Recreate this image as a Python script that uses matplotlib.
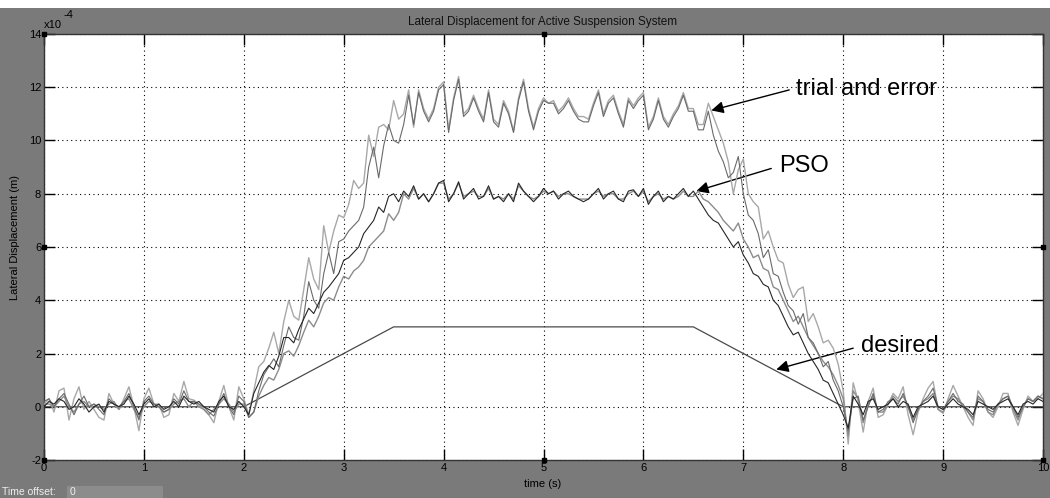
import numpy as np
import matplotlib
matplotlib.use("Agg")
import matplotlib.pyplot as plt
from matplotlib.patches import Rectangle

plt.rcParams['font.family'] = ['Liberation Sans', 'DejaVu Sans']
plt.rcParams['axes.unicode_minus'] = False

# time axis (s), 0.05 s steps
t = np.linspace(0, 10, 201)

# values in units of 1e-4 m
te_a = [0.1, 0.3, -0.2, 0.6, 0.7, -0.5, 0.3, 0.75, -0.1, 0.2, -0.1, -0.4, -0.5, 0.5, 0.1, -0.1, 0.3, 0.75, 0.0, -0.9,
        0.3, 0.7, 0.1, 0.1, -0.4, -0.3, 0.5, 0.2, 0.95, 0.3, 0.25, 0.1, -0.1, -0.3, -0.6, 0.2, 0.8, 0.0, -0.5, 0.75,
        0.3, -0.3, 0.6, 1.5, 1.7, 2.2, 2.8, 2.0, 3.2, 4.0, 3.4, 3.25, 4.4, 5.6, 4.8, 4.4, 6.8, 5.8, 6.6, 7.2,
        7.1, 7.6, 8.5, 8.2, 8.4, 10.2, 9.4, 10.5, 10.6, 10.4, 11.5, 10.8, 11.0, 11.9, 10.5, 11.9, 11.2, 10.8, 11.2, 12.0,
        12.2, 10.4, 11.6, 12.4, 11.0, 11.2, 11.7, 11.2, 10.8, 11.9, 10.8, 10.6, 11.5, 11.1, 10.35, 11.6, 12.3, 11.2, 10.5, 11.2,
        11.6, 11.4, 11.5, 11.1, 11.3, 11.6, 11.2, 10.9, 10.9, 10.8, 11.4, 11.9, 11.0, 11.5, 11.7, 11.1, 10.6, 11.6, 11.3, 11.6,
        11.8, 10.5, 10.9, 11.6, 10.9, 10.6, 11.0, 11.3, 11.8, 11.2, 11.2, 10.6, 10.6, 11.4, 10.9, 10.4, 9.9, 9.2, 8.0, 8.9,
        9.3, 8.0, 7.7, 7.5, 6.3, 6.6, 6.0, 5.5, 5.4, 4.6, 4.1, 4.4, 4.5, 3.2, 3.5, 3.0, 2.4, 2.5, 2.2, 1.6,
        0.6, -1.4, 0.9, 0.2, -0.95, 0.2, 0.7, -0.4, -0.3, 0.1, 0.5, 0.3, 0.75, -0.3, -1.05, -0.2, 0.3, 0.7, 0.95, -0.1,
        -0.25, 0.3, 0.8, 0.4, 0.0, -0.4, -0.7, 0.6, 0.3, -0.2, -0.4, 0.0, 0.5, 0.5, -0.2, -0.7, -0.1, 0.4, 0.2, 0.3,
        0.5]

te_b = [0.2, 0.3, 0.0, 0.3, 0.5, 0.1, -0.3, 0.1, 0.4, 0.0, 0.1, -0.1, -0.3, 0.3, 0.1, 0.0, 0.2, 0.5, 0.0, -0.5,
        0.2, 0.4, 0.1, 0.0, -0.2, -0.1, 0.3, 0.1, 0.6, 0.2, 0.2, 0.1, 0.0, -0.2, -0.35, 0.1, 0.5, 0.0, -0.3, 0.4,
        0.2, -0.4, -0.2, 0.6, 1.2, 1.5, 1.8, 1.5, 2.3, 3.0, 2.6, 2.5, 3.4, 4.7, 4.0, 3.7, 5.0, 5.8, 5.0, 6.2,
        6.3, 6.6, 6.8, 7.0, 7.5, 9.0, 9.75, 8.6, 9.8, 10.6, 10.0, 9.9, 10.6, 11.7, 10.6, 11.8, 11.1, 10.7, 11.1, 11.9,
        12.1, 10.3, 11.5, 12.3, 10.9, 11.1, 11.6, 11.1, 10.7, 11.8, 10.7, 10.5, 11.4, 11.0, 10.3, 11.5, 12.2, 11.1, 10.4, 11.1,
        11.5, 11.4, 11.4, 11.0, 11.2, 11.5, 11.1, 10.8, 10.7, 10.7, 11.3, 11.8, 10.9, 11.4, 11.6, 11.0, 10.5, 11.5, 11.2, 11.5,
        11.7, 10.4, 10.8, 11.5, 10.8, 10.5, 10.9, 11.2, 11.7, 11.1, 11.1, 10.4, 10.4, 11.1, 10.2, 9.6, 9.2, 8.6, 8.8, 9.4,
        8.0, 7.2, 7.0, 6.5, 5.6, 5.9, 5.0, 4.9, 4.3, 3.8, 3.6, 3.1, 3.5, 2.6, 2.4, 2.0, 1.5, 1.7, 1.0, 0.6,
        0.0, -0.9, 0.3, 0.4, -0.5, 0.0, 0.5, -0.2, -0.1, 0.2, 0.3, 0.1, 0.5, 0.0, -0.6, -0.1, 0.2, 0.4, 0.7, 0.0,
        -0.1, 0.2, 0.5, 0.2, 0.1, -0.2, -0.4, 0.4, 0.2, -0.1, -0.2, 0.1, 0.3, 0.4, 0.0, -0.4, 0.0, 0.3, 0.2, 0.4,
        0.3]

pso_a = [0.0, 0.2, 0.1, 0.3, 0.2, -0.1, 0.0, 0.3, 0.1, -0.2, 0.0, 0.1, -0.2, 0.2, 0.1, 0.0, 0.1, 0.4, 0.1, -0.3,
         0.1, 0.3, 0.0, 0.1, -0.1, 0.0, 0.2, 0.0, 0.4, 0.2, 0.1, 0.2, 0.0, -0.1, -0.2, 0.2, 0.4, 0.0, -0.1, 0.2,
         0.0, -0.3, 0.5, 0.9, 1.3, 1.55, 1.4, 1.9, 2.6, 2.6, 2.4, 2.9, 3.3, 3.7, 3.5, 3.9, 4.3, 4.5, 4.75, 5.0,
         5.5, 5.6, 5.8, 6.0, 6.5, 6.75, 7.0, 7.5, 7.3, 7.9, 8.0, 7.7, 8.1, 7.9, 8.3, 7.8, 8.0, 7.7, 8.0, 8.4,
         8.5, 7.7, 8.0, 8.45, 7.8, 8.0, 8.2, 7.8, 7.9, 8.3, 7.8, 7.9, 7.7, 8.0, 7.7, 8.4, 8.1, 7.9, 7.7, 7.9,
         8.2, 8.0, 8.1, 7.8, 8.0, 8.1, 7.9, 7.8, 7.7, 7.8, 8.0, 8.2, 7.8, 8.0, 8.1, 7.8, 7.7, 8.1, 8.15, 7.9,
         8.2, 7.6, 7.9, 8.1, 7.7, 7.9, 7.8, 8.0, 8.2, 7.9, 8.1, 7.8, 7.5, 7.2, 7.0, 6.9, 6.6, 6.3, 6.0, 6.2,
         5.7, 5.4, 5.0, 4.9, 4.6, 4.5, 4.0, 3.8, 3.4, 3.0, 2.7, 2.8, 2.4, 2.0, 1.7, 1.4, 1.0, 0.9, 0.5, 0.1,
         -0.3, -0.8, 0.4, 0.1, -0.3, 0.2, 0.3, -0.1, 0.0, 0.1, 0.3, 0.0, 0.2, 0.1, -0.4, 0.0, 0.1, 0.2, 0.4, 0.0,
         -0.1, 0.1, 0.3, 0.1, 0.0, -0.1, -0.3, 0.2, 0.1, 0.0, -0.1, 0.1, 0.2, 0.3, 0.0, -0.3, 0.1, 0.2, 0.1, 0.3,
         0.2]

pso_b = [0.1, 0.1, 0.0, 0.2, 0.4, 0.0, -0.2, 0.1, 0.2, 0.0, 0.1, 0.0, -0.1, 0.1, 0.2, -0.1, 0.2, 0.3, -0.1, -0.4,
         0.0, 0.2, 0.1, 0.0, -0.2, -0.1, 0.1, 0.2, 0.3, 0.0, 0.2, 0.0, -0.1, -0.3, -0.1, 0.1, 0.3, 0.1, -0.2, 0.1,
         0.1, -0.4, -0.2, 0.4, 0.8, 1.1, 1.0, 1.4, 2.0, 2.1, 1.9, 2.3, 2.8, 3.25, 3.0, 3.4, 3.9, 4.1, 4.0, 4.5,
         4.9, 4.8, 5.1, 5.25, 5.5, 6.0, 6.2, 6.4, 6.6, 7.25, 7.0, 7.3, 8.0, 7.8, 8.2, 7.8, 8.0, 7.7, 8.0, 8.4,
         8.4, 7.8, 8.0, 8.4, 7.9, 8.0, 8.1, 7.9, 7.9, 8.2, 7.8, 7.9, 7.8, 8.0, 7.8, 8.3, 8.1, 7.9, 7.8, 7.9,
         8.1, 8.0, 8.1, 7.9, 8.0, 8.0, 7.9, 7.8, 7.8, 7.8, 8.0, 8.1, 7.9, 8.0, 8.0, 7.8, 7.8, 8.0, 8.1, 7.9,
         8.1, 7.7, 7.9, 8.0, 7.8, 7.9, 7.8, 7.9, 8.1, 7.9, 7.9, 8.1, 7.8, 7.7, 7.5, 7.3, 7.0, 6.8, 6.6, 6.9,
         6.3, 6.0, 5.6, 5.7, 5.2, 5.1, 4.5, 4.4, 4.0, 3.6, 3.2, 3.4, 3.0, 2.6, 2.3, 2.0, 1.7, 1.5, 1.2, 0.8,
         0.3, -1.1, 0.6, 0.3, -0.6, 0.1, 0.4, -0.2, -0.2, 0.1, 0.4, 0.2, 0.4, 0.0, -0.5, -0.1, 0.2, 0.3, 0.5, -0.1,
         -0.2, 0.2, 0.4, 0.3, 0.0, -0.2, -0.5, 0.3, 0.2, -0.2, -0.3, 0.1, 0.3, 0.4, -0.1, -0.5, 0.0, 0.3, 0.2, 0.4,
         0.3]

desired_t = [0, 2, 3.5, 6.5, 8, 10]
desired_v = [0, 0, 3, 3, 0, 0]

x_ticks = list(range(0, 11))
y_ticks = list(range(-2, 15, 2))

title = "Lateral Displacement for Active Suspension System"
xlabel = "time (s)"
ylabel = "Lateral Displacement (m)"

W, H = 1050, 498
fig = plt.figure(figsize=(W / 100, H / 100), dpi=100, facecolor='#7a7a7a')
fig.patches.append(Rectangle((0, 1 - 8 / H), 1, 8 / H, transform=fig.transFigure,
                             facecolor='white', edgecolor='none', zorder=0))

ax = fig.add_axes([44 / W, 38 / H, 999 / W, 426 / H])
ax.set_facecolor('white')

ax.plot(desired_t, desired_v, color='#4a4a4a', lw=0.9, zorder=3)
ax.plot(t, te_a, color='#a8a8a8', lw=1.0, zorder=4)
ax.plot(t, te_b, color='#6a6a6a', lw=0.8, zorder=5)
ax.plot(t, pso_b, color='#8c8c8c', lw=1.0, zorder=4)
ax.plot(t, pso_a, color='#262626', lw=0.8, zorder=5)

ax.set_xlim(0, 10)
ax.set_ylim(-2, 14)
ax.set_xticks(x_ticks)
ax.set_yticks(y_ticks)
ax.tick_params(direction='in', length=8, width=1, top=True, right=True,
               labelsize=8, colors='black', pad=2)
ax.grid(True, color='black', linestyle=(0, (1, 3)), lw=0.8)
for s in ax.spines.values():
    s.set_color('#333333')
    s.set_linewidth(1.0)

# small scope markers
for (mx, my) in [(5, 14), (5, -2), (0, 6), (10, 6), (0, -2), (0, 14), (10, -2)]:
    ax.plot([mx], [my], marker='s', ms=3, color='black', clip_on=False, zorder=10)

# annotations
ax.annotate('', xy=(6.68, 11.13), xytext=(7.46, 11.9),
            arrowprops=dict(arrowstyle='-|>', color='black', lw=1.0, mutation_scale=18,
                            shrinkA=0, shrinkB=0))
ax.text(7.53, 11.95, 'trial and error', fontsize=17, va='center', ha='left', color='black')

ax.annotate('', xy=(6.53, 8.1), xytext=(7.28, 8.95),
            arrowprops=dict(arrowstyle='-|>', color='black', lw=1.0, mutation_scale=18,
                            shrinkA=0, shrinkB=0))
ax.text(7.36, 9.05, 'PSO', fontsize=17, va='center', ha='left', color='black')

ax.annotate('', xy=(7.33, 1.4), xytext=(8.1, 2.2),
            arrowprops=dict(arrowstyle='-|>', color='black', lw=1.0, mutation_scale=18,
                            shrinkA=0, shrinkB=0))
ax.text(8.18, 2.28, 'desired', fontsize=17, va='center', ha='left', color='black')

# texts
fig.text(543 / W, 1 - 22 / H, title, ha='center', va='center', fontsize=8.5, color='#111111')
fig.text(543 / W, 1 - 484 / H, xlabel, ha='center', va='center', fontsize=8, color='black')
fig.text(15 / W, 1 - 237 / H, ylabel, ha='center', va='center', rotation=90, fontsize=8, color='black')
fig.text(44 / W, 1 - 25 / H, 'x10', ha='left', va='center', fontsize=8, color='black')
fig.text(63 / W, 1 - 15 / H, '-4', ha='left', va='center', fontsize=8, color='black')

fig.patches.append(Rectangle((67 / W, 0), 96 / W, 12 / H, transform=fig.transFigure,
                             facecolor='#8c8c8c', edgecolor='none'))
fig.text(2 / W, 1 - 492 / H, 'Time offset:', ha='left', va='center', fontsize=7.5, color='#eeeeee')
fig.text(70 / W, 1 - 492 / H, '0', ha='left', va='center', fontsize=7.5, color='#eeeeee')

fig.savefig('out.png', dpi=100, facecolor=fig.get_facecolor())
